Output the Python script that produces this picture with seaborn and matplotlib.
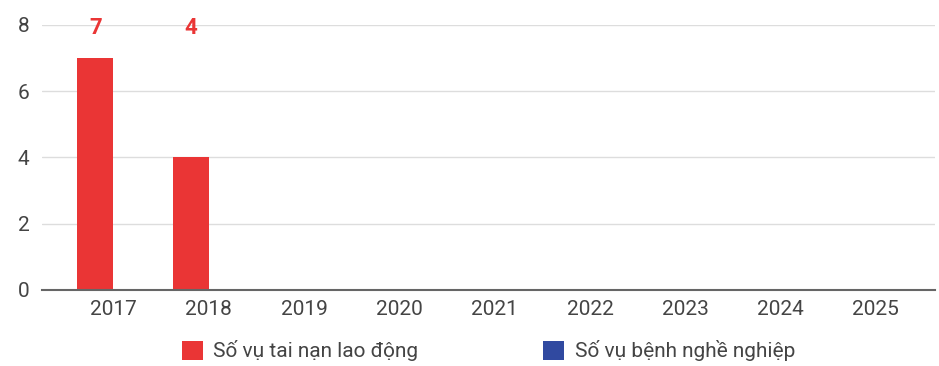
import numpy as np
import pandas as pd
import seaborn as sns
import matplotlib.pyplot as plt

# Data
years = ["2017", "2018", "2019", "2020", "2021", "2022", "2023", "2024", "2025"]
tai_nan = [7, 4, 0, 0, 0, 0, 0, 0, 0]
benh_nghe = [0, 0, 0, 0, 0, 0, 0, 0, 0]
series_names = ["Số vụ tai nạn lao động", "Số vụ bệnh nghề nghiệp"]
y_ticks = [0, 2, 4, 6, 8]


def main():
    sns.set_style("white")
    plt.rcParams["font.family"] = ["Roboto", "DejaVu Sans"]

    data = pd.DataFrame({
        "year": years * 2,
        "value": tai_nan + benh_nghe,
        "series": [series_names[0]] * len(years) + [series_names[1]] * len(years),
    })

    red = "#EA3535"
    blue = "#3049A0"
    text_color = "#444444"

    fig = plt.figure(figsize=(9.39, 3.66), dpi=100)
    ax = fig.add_axes([0.0447, 0.2077, 0.951, 0.724])

    sns.barplot(data=data, x="year", y="value", hue="series",
                palette=[red, blue], width=0.76, gap=0, ax=ax,
                saturation=1, linewidth=0, legend=True)

    ax.set_ylim(0, 8)
    ax.set_xlim(-0.75, 8.62)
    ax.set_yticks(y_ticks)
    ax.yaxis.grid(True, color="#dddddd", linewidth=1)
    ax.set_axisbelow(True)
    for side in ["left", "right", "top"]:
        ax.spines[side].set_visible(False)
    ax.spines["bottom"].set_color("#666666")
    ax.spines["bottom"].set_linewidth(1.5)
    ax.tick_params(axis="both", length=0, labelsize=15, colors=text_color)
    ax.tick_params(axis="y", pad=9)
    ax.tick_params(axis="x", pad=7)
    ax.set_xlabel("")
    ax.set_ylabel("")

    # value labels at the top of the chart, above the red bars
    red_bars = ax.containers[0]
    for bar, v in zip(red_bars, tai_nan):
        if v:
            ax.text(bar.get_x() + bar.get_width() / 2, 7.9, str(v),
                    ha="center", va="center", color=red,
                    fontsize=16, fontweight="bold")

    handles, labels = ax.get_legend_handles_labels()
    ax.legend(handles, labels, loc="center", bbox_to_anchor=(0.5, -0.23),
              ncol=2, frameon=False, fontsize=15, handlelength=1,
              handleheight=1, handletextpad=0.5, columnspacing=6,
              labelcolor=text_color)

    fig.savefig("out.png", dpi=100)


if __name__ == "__main__":
    main()
